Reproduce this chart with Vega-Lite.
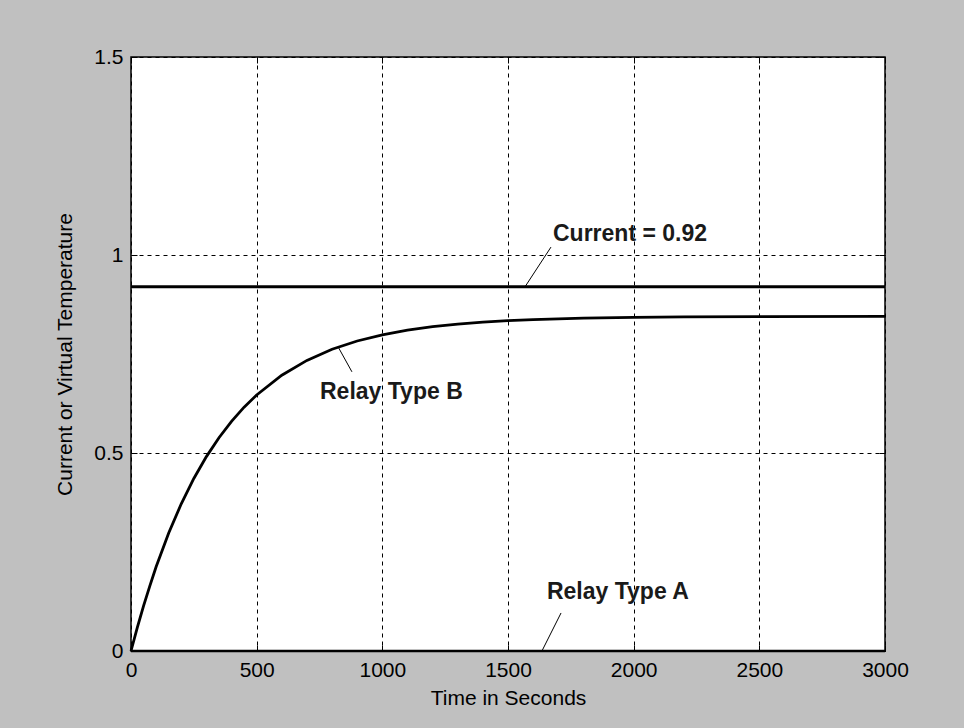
{
  "$schema": "https://vega.github.io/schema/vega-lite/v6.json",
  "width": 754,
  "height": 594,
  "autosize": {"type": "none"},
  "padding": {"left": 131, "top": 57, "right": 79, "bottom": 77},
  "background": "#c0c0c0",
  "config": {
    "view": {"fill": "#ffffff", "stroke": "#000000", "strokeWidth": 1.5},
    "font": "Liberation Sans",
    "axis": {
      "labelFont": "Liberation Sans",
      "titleFont": "Liberation Sans",
      "labelFontSize": 21,
      "titleFontSize": 21,
      "labelColor": "#000000",
      "titleColor": "#000000",
      "titleFontWeight": "normal",
      "labelFlush": false,
      "domain": false,
      "tickColor": "#000000",
      "tickWidth": 1,
      "tickSize": -6,
      "gridColor": "#000000",
      "gridDash": [4, 4],
      "gridWidth": 1,
      "gridOpacity": 1
    }
  },
  "datasets": {
    "curve": [
      {"t": 0, "v": 0}, {"t": 25, "v": 0.0591}, {"t": 50, "v": 0.114}, {"t": 75, "v": 0.1646},
      {"t": 100, "v": 0.2127}, {"t": 150, "v": 0.298}, {"t": 200, "v": 0.3717}, {"t": 250, "v": 0.4356},
      {"t": 300, "v": 0.4909}, {"t": 350, "v": 0.5386}, {"t": 400, "v": 0.5799}, {"t": 450, "v": 0.6157},
      {"t": 500, "v": 0.6466}, {"t": 600, "v": 0.6965}, {"t": 700, "v": 0.7339}, {"t": 800, "v": 0.7619},
      {"t": 900, "v": 0.7828}, {"t": 1000, "v": 0.7984}, {"t": 1100, "v": 0.8102}, {"t": 1200, "v": 0.8189},
      {"t": 1300, "v": 0.8255}, {"t": 1400, "v": 0.8304}, {"t": 1500, "v": 0.8341}, {"t": 1600, "v": 0.8368},
      {"t": 1700, "v": 0.8389}, {"t": 1800, "v": 0.8404}, {"t": 2000, "v": 0.8424}, {"t": 2200, "v": 0.8436},
      {"t": 2500, "v": 0.8444}, {"t": 3000, "v": 0.845}
    ],
    "current": [{"t": 0, "v": 0.92}, {"t": 3000, "v": 0.92}],
    "relayA": [{"t": 0, "v": 0}, {"t": 3000, "v": 0}],
    "leaders": [
      {"x1": 1568, "y1": 0.92, "x2": 1671, "y2": 1.02},
      {"x1": 824, "y1": 0.768, "x2": 879, "y2": 0.705},
      {"x1": 1635, "y1": 0.0, "x2": 1711, "y2": 0.096}
    ],
    "labels": [
      {"label": "Current = 0.92", "x": 1679, "y": 1.053},
      {"label": "Relay Type B", "x": 752, "y": 0.654},
      {"label": "Relay Type A", "x": 1655, "y": 0.149}
    ]
  },
  "resolve": {"axis": {"x": "independent", "y": "independent"}},
  "layer": [
    {
      "data": {"name": "curve"},
      "mark": {"type": "line", "color": "#000000", "strokeWidth": 2.8},
      "encoding": {
        "x": {
          "field": "t", "type": "quantitative",
          "scale": {"domain": [0, 3000], "nice": false, "zero": false},
          "axis": {"orient": "bottom", "values": [0, 500, 1000, 1500, 2000, 2500, 3000], "format": "d", "title": "Time in Seconds", "labelPadding": 14, "titlePadding": 7, "grid": true}
        },
        "y": {
          "field": "v", "type": "quantitative",
          "scale": {"domain": [0, 1.5], "nice": false, "zero": false},
          "axis": {"orient": "left", "values": [0, 0.5, 1, 1.5], "format": "~g", "title": "Current or Virtual Temperature", "labelPadding": 14, "titlePadding": 18, "grid": true}
        }
      }
    },
    {
      "data": {"name": "current"},
      "mark": {"type": "line", "color": "#000000", "strokeWidth": 3},
      "encoding": {
        "x": {"field": "t", "type": "quantitative", "axis": {"orient": "top", "values": [0, 500, 1000, 1500, 2000, 2500, 3000], "labels": false, "title": null, "grid": false}},
        "y": {"field": "v", "type": "quantitative", "axis": {"orient": "right", "values": [0, 0.5, 1, 1.5], "labels": false, "title": null, "grid": false}}
      }
    },
    {
      "data": {"name": "relayA"},
      "mark": {"type": "line", "color": "#000000", "strokeWidth": 2.5, "clip": false},
      "encoding": {
        "x": {"field": "t", "type": "quantitative", "axis": null},
        "y": {"field": "v", "type": "quantitative", "axis": null}
      }
    },
    {
      "data": {"name": "leaders"},
      "mark": {"type": "rule", "color": "#000000", "strokeWidth": 1},
      "encoding": {
        "x": {"field": "x1", "type": "quantitative", "axis": null},
        "y": {"field": "y1", "type": "quantitative", "axis": null},
        "x2": {"field": "x2"},
        "y2": {"field": "y2"}
      }
    },
    {
      "data": {"name": "labels"},
      "mark": {"type": "text", "align": "left", "baseline": "middle", "font": "Liberation Sans", "fontSize": 23, "fontWeight": "bold", "color": "#1a1a1a"},
      "encoding": {
        "x": {"field": "x", "type": "quantitative", "axis": null},
        "y": {"field": "y", "type": "quantitative", "axis": null},
        "text": {"field": "label"}
      }
    }
  ]
}
